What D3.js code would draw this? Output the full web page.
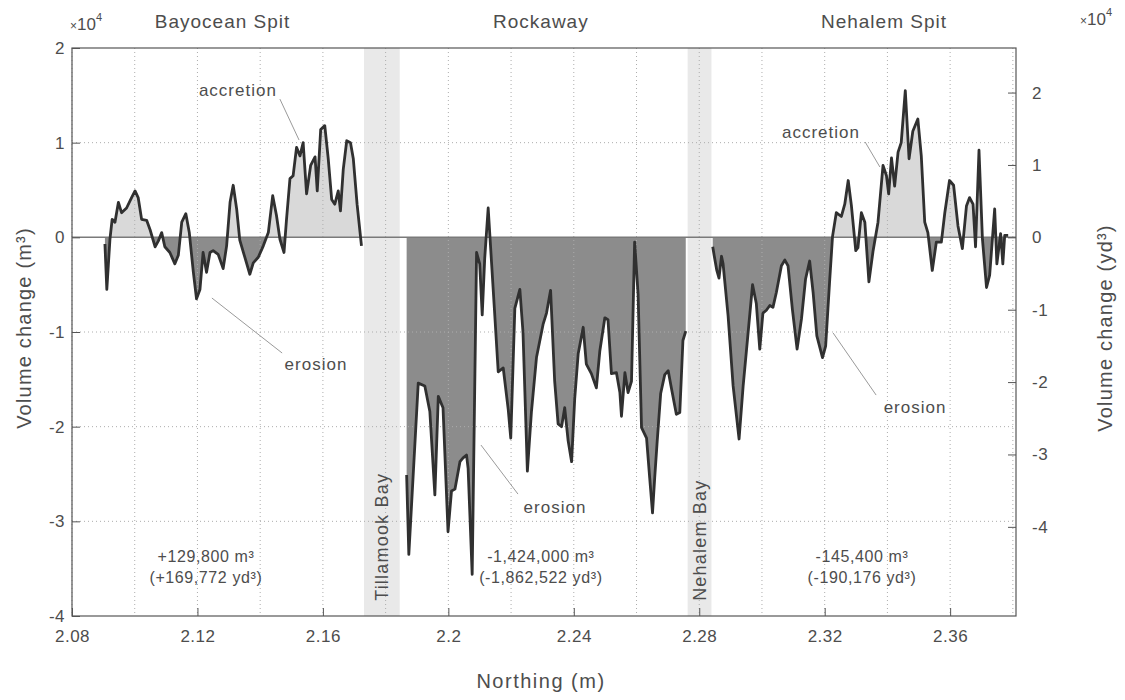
<!DOCTYPE html>
<html>
<head>
<meta charset="utf-8">
<script src="https://cdn.jsdelivr.net/npm/d3@7"></script>
<style>
  body { margin: 0; background: #fff; }
  svg text { font-family: "Liberation Sans", Arial, sans-serif; fill: #4d4d4d; }
</style>
</head>
<body>
<svg id="chart" width="1125" height="700"></svg>
<script>
// ---- data (northing in m x10^6 as printed, volume change in m3) ----
const bayoceanNorthing = [2.0905, 2.0911, 2.0921, 2.0928, 2.0937, 2.0948, 2.0958, 2.0974, 2.0990, 2.1001,
  2.1011, 2.1022, 2.1038, 2.1049, 2.1065, 2.1075, 2.1086, 2.1096, 2.1112, 2.1128,
  2.1139, 2.1150, 2.1163, 2.1174, 2.1187, 2.1197, 2.1208, 2.1218, 2.1229, 2.1240,
  2.1250, 2.1266, 2.1282, 2.1293, 2.1304, 2.1314, 2.1325, 2.1335, 2.1351, 2.1367,
  2.1378, 2.1394, 2.1410, 2.1426, 2.1440, 2.1452, 2.1463, 2.1476, 2.1484, 2.1495,
  2.1505, 2.1516, 2.1527, 2.1537, 2.1548, 2.1561, 2.1575, 2.1582, 2.1593, 2.1606,
  2.1617, 2.1628, 2.1638, 2.1649, 2.1656, 2.1665, 2.1676, 2.1688, 2.1697, 2.1709,
  2.1723];
const bayoceanVolume = [-700, -5500, -200, 1900, 1600, 3700, 2600, 3100, 4200, 4900,
  4200, 1900, 1800, 800, -1000, -400, 500, -1000, -1600, -2800,
  -1900, 1600, 2500, 500, -3700, -6500, -5500, -1600, -3700, -1600,
  -1400, -1800, -3300, -900, 3700, 5500, 3000, -300, -2100, -3900,
  -2700, -2100, -900, 500, 4400, 2300, -200, -1600, 1900, 6200,
  6500, 9500, 8600, 10000, 4600, 7600, 8500, 4900, 11400, 11800,
  8300, 4000, 3500, 4900, 2800, 7200, 10200, 10000, 8300, 3500,
  -900];

const rockawayNorthing = [2.1867, 2.1874, 2.1904, 2.1925, 2.1941, 2.1957, 2.1968, 2.1983, 2.1999, 2.2010,
  2.2021, 2.2037, 2.2047, 2.2058, 2.2063, 2.2076, 2.2090, 2.2100, 2.2108, 2.2116,
  2.2127, 2.2138, 2.2146, 2.2159, 2.2175, 2.2191, 2.2199, 2.2212, 2.2228, 2.2238,
  2.2252, 2.2265, 2.2281, 2.2302, 2.2313, 2.2326, 2.2339, 2.2350, 2.2361, 2.2371,
  2.2382, 2.2393, 2.2403, 2.2414, 2.2430, 2.2440, 2.2456, 2.2472, 2.2483, 2.2499,
  2.2509, 2.2520, 2.2536, 2.2547, 2.2552, 2.2563, 2.2573, 2.2584, 2.2594, 2.2605,
  2.2616, 2.2632, 2.2642, 2.2651, 2.2658, 2.2666, 2.2677, 2.2690, 2.2701, 2.2711,
  2.2727, 2.2738, 2.2748, 2.2757];
const rockawayVolume = [-25100, -33500, -15400, -15700, -18400, -27200, -16800, -18000, -31100, -26800,
  -26600, -23700, -23300, -23000, -24400, -35600, -1600, -2800, -8200, -2200,
  3100, -2800, -7100, -14200, -13800, -18200, -21200, -7500, -5500, -10000,
  -24700, -18400, -12700, -9200, -8000, -5600, -15200, -19700, -20000, -18000,
  -21500, -23700, -17000, -12300, -9500, -13400, -14400, -15900, -12000, -8500,
  -8700, -14400, -14300, -16400, -18900, -14300, -16400, -15200, -500, -6000,
  -20100, -21200, -25400, -29100, -25400, -21500, -16500, -14500, -14100, -15900,
  -18700, -18500, -10900, -9900];

const nehalemNorthing = [2.2843, 2.2848, 2.2856, 2.2863, 2.2871, 2.2876, 2.2892, 2.2908, 2.2927, 2.2940,
  2.2956, 2.2970, 2.2982, 2.2993, 2.3003, 2.3014, 2.3025, 2.3035, 2.3046, 2.3062,
  2.3073, 2.3083, 2.3097, 2.3112, 2.3126, 2.3139, 2.3152, 2.3163, 2.3175, 2.3193,
  2.3203, 2.3216, 2.3225, 2.3237, 2.3253, 2.3264, 2.3275, 2.3285, 2.3299, 2.3306,
  2.3317, 2.3328, 2.3341, 2.3354, 2.3370, 2.3386, 2.3397, 2.3404, 2.3413, 2.3423,
  2.3434, 2.3444, 2.3457, 2.3469, 2.3481, 2.3497, 2.3508, 2.3519, 2.3529, 2.3543,
  2.3556, 2.3572, 2.3583, 2.3598, 2.3611, 2.3625, 2.3639, 2.3652, 2.3662, 2.3673,
  2.3681, 2.3692, 2.3703, 2.3716, 2.3726, 2.3742, 2.3749, 2.3761, 2.3768, 2.3774,
  2.3785];
const nehalemVolume = [-1000, -2000, -3500, -4300, -2000, -2800, -8300, -15700, -21300, -15700,
  -10000, -5000, -7000, -11800, -8000, -7700, -7200, -7400, -5800, -3000,
  -2400, -3000, -7600, -11800, -8600, -4400, -2500, -5800, -10400, -12700,
  -11500, -4500, 100, 2600, 2200, 3500, 6000, 3400, -1400, -1100,
  2600, 1600, -4700, -1500, 1600, 7600, 6500, 4600, 8400, 5400,
  9000, 10000, 15500, 8300, 11200, 12500, 8600, 1600, 500, -3500,
  -500, -500, 2600, 6000, 5500, 1200, -1200, 3300, 4200, 3500,
  -1000, 9200, -200, -5300, -4000, 3000, -2800, 400, -2800, 200,
  200];

const sectionNames = ["Bayocean Spit", "Rockaway", "Nehalem Spit"];
const totalsM3 = ["+129,800 m³", "-1,424,000 m³", "-145,400 m³"];
const totalsYd3 = ["(+169,772 yd³)", "(-1,862,522 yd³)", "(-190,176 yd³)"];
const bayNames = ["Tillamook Bay", "Nehalem Bay"];
const bayStart = [2.1731, 2.2763];
const bayEnd = [2.1845, 2.2839];

const xTicks = [2.08, 2.12, 2.16, 2.2, 2.24, 2.28, 2.32, 2.36];
const yTicks = [-40000, -30000, -20000, -10000, 0, 10000, 20000];
const ydTicks = [-40000, -30000, -20000, -10000, 0, 10000, 20000];
const M3_TO_YD3 = 1.30795;

// ---- layout ----
const W = 1125, H = 700;
const margin = { top: 48, right: 109, bottom: 84, left: 72 };

const svg = d3.select("#chart");

const x = d3.scaleLinear().domain([2.08, 2.381]).range([margin.left, W - margin.right]);
const y = d3.scaleLinear().domain([-40000, 20000]).range([H - margin.bottom, margin.top]);
const yYd = d3.scaleLinear()
  .domain([-40000 * M3_TO_YD3, 20000 * M3_TO_YD3])
  .range([H - margin.bottom, margin.top]);

const sections = [
  d3.zip(bayoceanNorthing, bayoceanVolume),
  d3.zip(rockawayNorthing, rockawayVolume),
  d3.zip(nehalemNorthing, nehalemVolume)
];

// clip paths for accretion (above 0) and erosion (below 0)
const defs = svg.append("defs");
defs.append("clipPath").attr("id", "clip-pos")
  .append("rect")
  .attr("x", margin.left).attr("y", margin.top)
  .attr("width", x.range()[1] - margin.left).attr("height", y(0) - margin.top);
defs.append("clipPath").attr("id", "clip-neg")
  .append("rect")
  .attr("x", margin.left).attr("y", y(0))
  .attr("width", x.range()[1] - margin.left).attr("height", y.range()[0] - y(0));

// bays
svg.append("g")
  .selectAll("rect")
  .data(d3.range(bayNames.length))
  .enter()
  .append("rect")
  .attr("x", i => x(bayStart[i]))
  .attr("y", margin.top)
  .attr("width", i => x(bayEnd[i]) - x(bayStart[i]))
  .attr("height", y.range()[0] - margin.top)
  .attr("fill", "#e9e9e9");

// fills
const area = d3.area()
  .x(d => x(d[0]))
  .y0(y(0))
  .y1(d => y(d[1]));

svg.append("g").attr("clip-path", "url(#clip-pos)")
  .selectAll("path")
  .data(sections)
  .enter()
  .append("path")
  .attr("d", area)
  .attr("fill", "#d9d9d9");

svg.append("g").attr("clip-path", "url(#clip-neg)")
  .selectAll("path")
  .data(sections)
  .enter()
  .append("path")
  .attr("d", area)
  .attr("fill", "#8c8c8c");

// dotted grid
const xGrid = d3.range(2.08, 2.3801, 0.02);
svg.append("g")
  .selectAll("line")
  .data(xGrid)
  .enter()
  .append("line")
  .attr("x1", d => x(d)).attr("x2", d => x(d))
  .attr("y1", margin.top).attr("y2", y.range()[0])
  .attr("stroke", "#adadad")
  .attr("stroke-width", 1)
  .attr("stroke-dasharray", "1,3");

svg.append("g")
  .selectAll("line")
  .data(yTicks.filter(d => d !== 0 && d !== 20000 && d !== -40000))
  .enter()
  .append("line")
  .attr("x1", margin.left).attr("x2", x.range()[1])
  .attr("y1", d => y(d)).attr("y2", d => y(d))
  .attr("stroke", "#adadad")
  .attr("stroke-width", 1)
  .attr("stroke-dasharray", "1,3");

// zero line
svg.append("line")
  .attr("x1", margin.left).attr("x2", x.range()[1])
  .attr("y1", y(0)).attr("y2", y(0))
  .attr("stroke", "#7a7a7a")
  .attr("stroke-width", 1.5);

// curves
const line = d3.line()
  .x(d => x(d[0]))
  .y(d => y(d[1]));

svg.append("g")
  .selectAll("path")
  .data(sections)
  .enter()
  .append("path")
  .attr("d", line)
  .attr("fill", "none")
  .attr("stroke", "#303030")
  .attr("stroke-width", 2.8)
  .attr("stroke-linejoin", "round");

// box
svg.append("rect")
  .attr("x", margin.left).attr("y", margin.top)
  .attr("width", x.range()[1] - margin.left)
  .attr("height", y.range()[0] - margin.top)
  .attr("fill", "none")
  .attr("stroke", "#555")
  .attr("stroke-width", 1.2);

// axes (ticks pointing inward)
const xAxis = d3.axisBottom(x).tickValues(xTicks)
  .tickSizeInner(-8).tickSizeOuter(0).tickPadding(14)
  .tickFormat(d => String(+d.toFixed(2)));
const yAxis = d3.axisLeft(y).tickValues(yTicks)
  .tickSizeInner(-8).tickSizeOuter(0).tickPadding(7)
  .tickFormat(d => String(d / 10000));
const yAxisRight = d3.axisRight(yYd).tickValues(ydTicks)
  .tickSizeInner(-8).tickSizeOuter(0).tickPadding(16)
  .tickFormat(d => String(d / 10000));

function styleAxis(g) {
  g.select(".domain").remove();
  g.selectAll(".tick line").attr("stroke", "#555");
  g.selectAll(".tick text")
    .attr("font-size", 17)
    .attr("letter-spacing", 0.5)
    .style("font-family", "'Liberation Sans', Arial, sans-serif")
    .attr("fill", "#444");
}

svg.append("g").attr("transform", `translate(0,${y.range()[0]})`).call(xAxis).call(styleAxis);
svg.append("g").attr("transform", `translate(${margin.left},0)`).call(yAxis).call(styleAxis);
svg.append("g").attr("transform", `translate(${x.range()[1]},0)`).call(yAxisRight).call(styleAxis);

// x10^4 exponent labels
function exponent(xPos, yPos) {
  const t = svg.append("text")
    .attr("x", xPos).attr("y", yPos)
    .attr("font-size", 17);
  t.append("tspan").attr("font-size", 12).text("×");
  t.append("tspan").text("10");
  t.append("tspan").attr("font-size", 11).attr("dy", -9).text("4");
}
exponent(70, 30);
exponent(1080, 25);

// axis titles
svg.append("text")
  .attr("x", (margin.left + x.range()[1]) / 2 - 3).attr("y", 688)
  .attr("text-anchor", "middle")
  .attr("font-size", 20)
  .attr("letter-spacing", 1.5)
  .text("Northing (m)");

svg.append("text")
  .attr("transform", "translate(24,328) rotate(-90)")
  .attr("text-anchor", "middle")
  .attr("dy", "0.35em")
  .attr("font-size", 20)
  .attr("letter-spacing", 1.2)
  .text("Volume change (m³)");

svg.append("text")
  .attr("transform", "translate(1105,328) rotate(-90)")
  .attr("text-anchor", "middle")
  .attr("dy", "0.35em")
  .attr("font-size", 20)
  .attr("letter-spacing", 1.2)
  .text("Volume change (yd³)");

// section titles and totals
const titleNorthing = [2.1280, 2.2295, 2.3389];
const totalNorthing = [2.1227, 2.2295, 2.3319];

svg.append("g")
  .selectAll("text")
  .data(sectionNames)
  .enter()
  .append("text")
  .attr("x", (d, i) => x(titleNorthing[i]))
  .attr("y", 28)
  .attr("text-anchor", "middle")
  .attr("font-size", 19)
  .attr("letter-spacing", 1)
  .text(d => d);

const totals = svg.append("g")
  .selectAll("text")
  .data(totalsM3)
  .enter()
  .append("text")
  .attr("x", (d, i) => x(totalNorthing[i]))
  .attr("y", y(-34300))
  .attr("text-anchor", "middle")
  .attr("font-size", 16)
  .attr("letter-spacing", 0.6);
totals.append("tspan").text(d => d);
totals.append("tspan")
  .attr("x", (d, i) => x(totalNorthing[i]))
  .attr("dy", "1.3em")
  .text((d, i) => totalsYd3[i]);

// bay labels
svg.append("g")
  .selectAll("text")
  .data(bayNames)
  .enter()
  .append("text")
  .attr("transform", (d, i) => `translate(${x((bayStart[i] + bayEnd[i]) / 2)},${y(-38400)}) rotate(-90)`)
  .attr("dy", "0.36em")
  .attr("font-size", 18)
  .attr("letter-spacing", 1.2)
  .text(d => d);

// annotations with leader lines
const notes = [
  { text: "accretion", n: 2.1329, v: 15560, from: [2.1463, 14600], to: [2.1524, 10280] },
  { text: "erosion", n: 2.1578, v: -13380, from: [2.1246, -6410], to: [2.1470, -12220] },
  { text: "erosion", n: 2.2340, v: -28450, from: [2.2104, -21940], to: [2.2222, -27120] },
  { text: "accretion", n: 2.3188, v: 11130, from: [2.3329, 10070], to: [2.3376, 7430] },
  { text: "erosion", n: 2.3488, v: -17920, from: [2.3227, -10110], to: [2.3364, -16660] }
];

svg.append("g")
  .selectAll("line")
  .data(notes)
  .enter()
  .append("line")
  .attr("x1", d => x(d.from[0])).attr("y1", d => y(d.from[1]))
  .attr("x2", d => x(d.to[0])).attr("y2", d => y(d.to[1]))
  .attr("stroke", "#9a9a9a")
  .attr("stroke-width", 1);

svg.append("g")
  .selectAll("text")
  .data(notes)
  .enter()
  .append("text")
  .attr("x", d => x(d.n))
  .attr("y", d => y(d.v))
  .attr("dy", "0.35em")
  .attr("text-anchor", "middle")
  .attr("font-size", 17)
  .attr("letter-spacing", 1)
  .text(d => d.text);
</script>
</body>
</html>
